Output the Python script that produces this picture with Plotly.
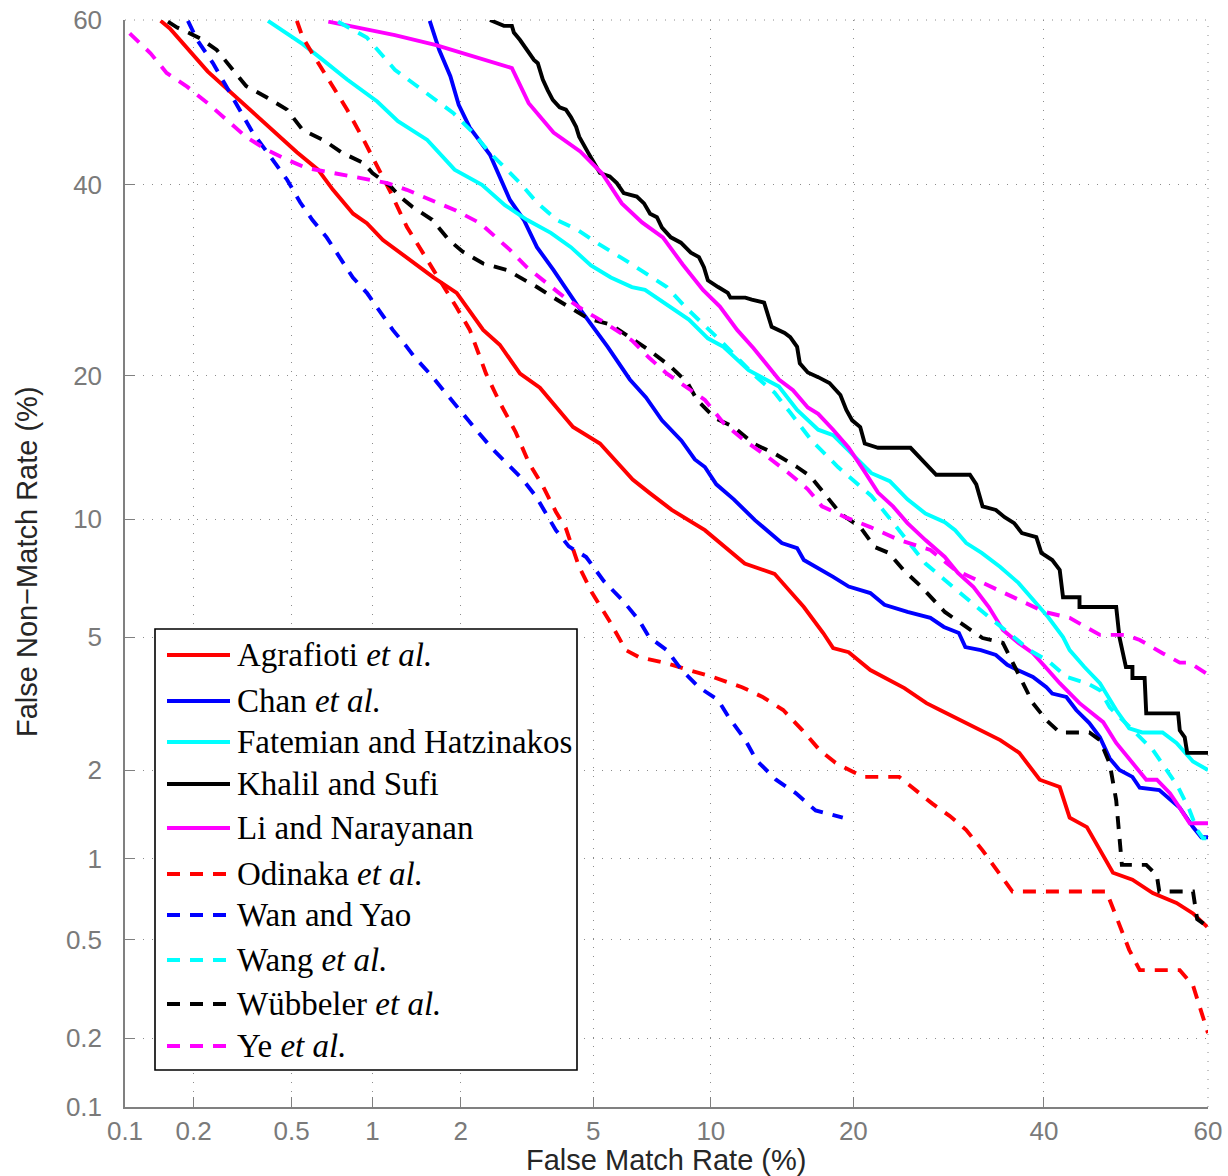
from statistics import NormalDist
import plotly.graph_objects as go

# ---------------- data (percent) ----------------
agrafioti_fmr = [0.144, 0.158, 0.229, 0.342, 0.524, 0.631, 0.718, 0.852, 0.955, 1.09, 1.35, 1.63, 1.94, 2.36, 2.66, 3.07, 3.52, 4.39, 5.22, 6.39, 7.05, 8.04, 9.68, 11.96, 13.9, 16.0, 17.5, 18.3, 19.6, 21.5, 24.7, 26.9, 28.3, 31.1, 34.9, 37.1, 39.5, 41.9, 43.1, 45.2, 46.8, 48.4, 50.8, 53.3, 56.2, 58.2, 59.9]
agrafioti_fnmr = [59.9, 59.0, 53.8, 49.1, 43.9, 41.8, 39.4, 36.6, 35.5, 33.6, 31.4, 29.5, 27.9, 24.2, 22.8, 20.2, 19.0, 15.9, 14.7, 12.3, 11.5, 10.5, 9.41, 7.8, 7.35, 6.03, 5.13, 4.66, 4.54, 4.04, 3.58, 3.23, 3.08, 2.81, 2.49, 2.27, 1.86, 1.76, 1.39, 1.29, 1.07, 0.89, 0.84, 0.75, 0.69, 0.63, 0.56]

chan_fmr = [1.58, 1.70, 1.85, 1.97, 2.14, 2.48, 2.86, 3.15, 3.45, 3.86, 4.54, 5.48, 6.28, 6.92, 7.6, 8.5, 9.16, 9.68, 10.3, 11.3, 12.6, 14.4, 15.5, 16.0, 18.3, 19.6, 21.5, 22.8, 25.0, 27.3, 28.7, 30.3, 31.0, 32.7, 34.4, 35.7, 36.9, 38.7, 40.3, 41.0, 42.7, 43.9, 45.5, 46.8, 48.0, 49.2, 50.8, 51.7, 54.1, 56.6, 58.2, 59.2, 60.0]
chan_fnmr = [59.9, 56.4, 53.2, 49.7, 46.9, 43.6, 38.2, 35.9, 32.8, 30.3, 26.5, 22.6, 19.7, 18.2, 16.4, 14.9, 13.6, 13.1, 12.0, 11.1, 9.94, 8.76, 8.52, 7.96, 7.22, 6.82, 6.56, 6.11, 5.85, 5.64, 5.33, 5.13, 4.69, 4.60, 4.46, 4.18, 4.04, 3.86, 3.60, 3.45, 3.37, 3.08, 2.81, 2.54, 2.18, 2.00, 1.90, 1.75, 1.72, 1.50, 1.29, 1.19, 1.19]

fatemian_fmr = [0.404, 0.552, 0.64, 0.81, 1.04, 1.23, 1.55, 1.91, 2.34, 2.76, 3.22, 3.79, 4.33, 4.93, 5.59, 6.36, 6.88, 7.73, 8.86, 9.84, 10.7, 12.2, 14.2, 15.5, 17.1, 18.3, 19.9, 21.6, 23.3, 25.0, 26.8, 28.8, 29.9, 31.1, 32.8, 34.9, 37.0, 38.7, 40.5, 42.3, 43.1, 44.9, 46.8, 48.8, 50.4, 52.0, 54.5, 56.2, 57.4, 58.2, 60.0]
fatemian_fnmr = [59.9, 57.1, 55.5, 52.8, 50.1, 47.7, 45.4, 41.8, 40.0, 37.6, 35.9, 34.4, 32.8, 30.8, 29.5, 28.5, 28.2, 26.8, 25.2, 23.4, 22.6, 20.5, 19.1, 17.2, 15.7, 15.3, 14.0, 12.7, 12.2, 11.1, 10.3, 9.83, 9.41, 8.76, 8.29, 7.65, 6.97, 6.29, 5.67, 5.0, 4.60, 4.12, 3.70, 3.08, 2.71, 2.63, 2.63, 2.44, 2.25, 2.13, 2.0]

khalil_fmr = [2.48, 2.74, 2.90, 2.94, 3.07, 3.22, 3.38, 3.47, 3.59, 3.71, 3.84, 4.02, 4.19, 4.33, 4.48, 4.57, 4.69, 4.85, 5.03, 5.22, 5.55, 5.80, 6.05, 6.55, 6.84, 7.09, 7.38, 7.6, 8.0, 8.47, 8.96, 9.37, 9.63, 9.84, 10.4, 10.95, 11.1, 12.0, 12.4, 13.2, 13.7, 14.1, 14.6, 15.0, 15.5, 15.7, 16.3, 17.1, 18.0, 18.9, 19.4, 19.9, 20.6, 21.0, 22.2, 25.3, 26.1, 27.2, 27.9, 31.5, 32.2, 32.9, 34.4, 35.4, 36.5, 37.4, 39.1, 39.7, 41.0, 41.9, 42.3, 44.3, 44.3, 48.8, 49.2, 50.0, 50.8, 50.8, 52.3, 52.5, 56.4, 56.6, 57.2, 57.5, 60.0]
khalil_fnmr = [60.0, 59.3, 59.3, 58.5, 57.6, 56.4, 55.2, 54.8, 52.8, 51.5, 50.3, 49.4, 49.1, 48.2, 47.0, 45.8, 45.0, 43.8, 42.6, 41.4, 41.0, 40.2, 39.0, 38.6, 37.8, 36.6, 36.2, 35.0, 33.9, 33.3, 32.2, 31.7, 30.6, 29.2, 28.5, 27.9, 27.4, 27.4, 27.2, 26.9, 24.5, 24.2, 23.9, 23.5, 22.6, 21.1, 20.3, 19.9, 19.4, 18.4, 17.2, 16.4, 15.9, 14.7, 14.4, 14.4, 13.8, 13.1, 12.6, 12.6, 12.0, 10.7, 10.5, 10.1, 9.78, 9.26, 9.06, 8.29, 7.96, 7.52, 6.40, 6.40, 6.03, 6.03, 5.0, 4.12, 4.12, 3.83, 3.83, 3.01, 3.01, 2.67, 2.54, 2.27, 2.27]

li_fmr = [0.69, 1.20, 1.66, 2.03, 2.90, 3.26, 3.86, 4.60, 5.28, 5.98, 6.76, 7.64, 8.56, 9.58, 10.5, 11.5, 12.5, 14.2, 15.2, 16.3, 17.1, 18.3, 19.6, 20.9, 22.2, 23.6, 25.0, 26.8, 28.8, 30.2, 31.9, 33.6, 35.2, 37.0, 38.7, 40.5, 41.9, 44.3, 46.4, 47.2, 48.8, 50.8, 52.5, 53.8, 55.4, 56.6, 57.8, 60.0]
li_fnmr = [59.8, 58.2, 57.0, 56.0, 54.2, 49.9, 46.3, 44.0, 41.4, 37.8, 35.6, 33.9, 30.9, 28.2, 26.5, 24.2, 22.5, 19.7, 18.8, 17.4, 16.9, 15.7, 14.4, 12.9, 11.5, 10.7, 9.78, 8.91, 8.10, 7.39, 6.80, 6.03, 5.23, 4.82, 4.51, 4.04, 3.70, 3.23, 2.93, 2.83, 2.44, 2.10, 1.86, 1.86, 1.68, 1.50, 1.33, 1.33]

odinaka_fmr = [0.524, 0.552, 0.60, 0.70, 0.81, 0.93, 1.04, 1.16, 1.32, 1.50, 1.71, 1.94, 2.14, 2.41, 2.66, 2.98, 3.26, 3.59, 3.92, 4.19, 4.57, 4.97, 5.52, 6.13, 6.63, 7.77, 8.86, 10.1, 11.8, 13.1, 14.5, 15.9, 17.2, 18.5, 20.0, 20.9, 24.2, 25.8, 27.5, 29.3, 31.1, 32.9, 34.5, 36.3, 47.6, 48.8, 50.4, 51.7, 56.6, 58.2, 60.0]
odinaka_fnmr = [59.9, 57.9, 56.0, 52.4, 49.1, 45.4, 42.2, 39.1, 35.1, 32.2, 29.2, 26.4, 24.2, 20.2, 17.8, 15.5, 13.4, 11.9, 10.4, 9.5, 7.65, 6.56, 5.57, 4.60, 4.40, 4.23, 4.04, 3.86, 3.60, 3.37, 3.08, 2.67, 2.32, 2.11, 1.97, 1.90, 1.90, 1.72, 1.55, 1.41, 1.26, 1.07, 0.91, 0.76, 0.76, 0.61, 0.457, 0.38, 0.38, 0.33, 0.21]

wan_fmr = [0.189, 0.207, 0.241, 0.275, 0.311, 0.351, 0.41, 0.48, 0.54, 0.60, 0.68, 0.76, 0.85, 0.955, 1.06, 1.18, 1.32, 1.40, 1.58, 1.75, 1.98, 2.24, 2.53, 2.78, 3.13, 3.42, 3.74, 3.92, 4.27, 4.78, 5.35, 6.0, 6.63, 7.05, 7.82, 8.51, 9.37, 10.4, 11.0, 12.0, 12.7, 14.0, 15.4, 16.9, 19.1]
wan_fnmr = [59.9, 57.6, 54.8, 51.9, 49.1, 46.3, 43.5, 40.6, 37.9, 35.9, 33.9, 31.7, 29.5, 27.9, 26.1, 24.2, 22.6, 21.7, 20.2, 18.8, 17.2, 15.7, 14.3, 13.4, 12.3, 11.3, 10.1, 9.41, 8.6, 8.1, 7.04, 6.29, 5.57, 5.0, 4.60, 4.04, 3.60, 3.30, 2.93, 2.49, 2.15, 1.86, 1.68, 1.47, 1.39]

wang_fmr = [0.75, 0.955, 1.20, 1.38, 1.66, 1.89, 2.19, 2.48, 2.80, 3.07, 3.45, 3.94, 4.54, 5.16, 6.09, 6.88, 7.82, 8.71, 9.73, 10.7, 12.7, 13.9, 15.0, 16.6, 18.7, 19.9, 21.6, 23.2, 25.0, 26.8, 28.8, 31.3, 33.6, 35.9, 38.3, 40.5, 42.7, 45.2, 46.8, 48.0, 50.0, 51.7, 53.3, 55.0, 56.4, 57.8, 58.7, 59.4, 60.0]
wang_fnmr = [59.8, 57.9, 54.0, 52.4, 50.3, 48.7, 46.3, 43.8, 41.8, 40.2, 37.9, 35.9, 34.7, 33.2, 31.4, 30.0, 28.5, 26.4, 24.5, 22.9, 19.9, 18.6, 17.0, 14.9, 13.1, 12.3, 11.3, 10.1, 8.91, 7.8, 7.09, 6.29, 5.67, 5.13, 4.60, 4.29, 3.86, 3.70, 3.53, 3.14, 2.81, 2.54, 2.32, 2.0, 1.76, 1.47, 1.26, 1.18, 1.18]

wubbeler_fmr = [0.155, 0.17, 0.193, 0.213, 0.25, 0.29, 0.33, 0.40, 0.48, 0.552, 0.66, 0.78, 0.93, 1.0, 1.16, 1.25, 1.38, 1.61, 1.83, 2.03, 2.36, 2.80, 3.07, 3.45, 3.86, 4.33, 4.85, 5.59, 6.36, 7.05, 8.0, 8.8, 9.27, 10.2, 11.3, 12.5, 13.9, 15.5, 16.5, 17.7, 18.9, 20.6, 21.9, 23.2, 24.6, 26.3, 28.8, 31.1, 32.9, 35.2, 36.6, 37.9, 38.7, 40.3, 41.9, 45.5, 46.8, 48.0, 48.8, 49.2, 49.5, 52.5, 53.8, 54.1, 58.2, 58.7, 60.0]
wubbeler_fnmr = [59.8, 59.1, 58.4, 57.8, 56.4, 54.0, 52.0, 50.6, 49.1, 46.6, 45.4, 43.8, 42.6, 41.4, 39.8, 38.6, 37.4, 35.9, 33.6, 32.3, 31.0, 30.3, 29.5, 28.5, 27.4, 26.3, 25.3, 24.7, 23.4, 22.3, 20.8, 19.4, 18.0, 16.6, 15.9, 14.7, 14.0, 13.1, 12.5, 11.3, 10.3, 9.57, 8.57, 8.29, 7.52, 6.84, 5.85, 5.33, 4.97, 4.82, 4.12, 3.53, 3.23, 2.87, 2.63, 2.63, 2.49, 2.10, 1.59, 1.19, 0.95, 0.95, 0.87, 0.76, 0.76, 0.60, 0.56]

ye_fmr = [0.105, 0.13, 0.153, 0.188, 0.229, 0.275, 0.332, 0.40, 0.48, 0.57, 0.72, 0.90, 1.13, 1.32, 1.58, 1.92, 2.31, 2.62, 2.86, 3.22, 3.62, 4.13, 4.72, 5.38, 6.36, 7.05, 7.82, 8.71, 9.68, 10.7, 11.96, 13.4, 14.9, 16.3, 17.4, 19.3, 21.5, 24.2, 27.3, 29.9, 32.7, 35.4, 37.8, 40.1, 43.1, 45.2, 46.8, 50.0, 51.7, 54.5, 56.6, 57.8, 60.0]
ye_fnmr = [58.4, 56.0, 53.6, 51.9, 49.9, 47.8, 45.7, 44.2, 43.0, 42.0, 41.4, 40.8, 40.2, 39.4, 38.2, 37.0, 35.5, 33.8, 32.5, 30.6, 29.2, 27.5, 26.1, 24.9, 23.2, 21.6, 20.2, 19.1, 18.0, 16.2, 14.9, 13.8, 12.7, 11.7, 10.7, 10.1, 9.57, 8.91, 8.43, 7.52, 7.0, 6.57, 6.2, 5.85, 5.64, 5.33, 5.07, 5.07, 4.91, 4.51, 4.24, 4.24, 3.92]

series_names = ["Agrafioti <i>et al.</i>", "Chan <i>et al.</i>", "Fatemian and Hatzinakos",
                "Khalil and Sufi", "Li and Narayanan", "Odinaka <i>et al.</i>", "Wan and Yao",
                "Wang <i>et al.</i>", "Wübbeler <i>et al.</i>", "Ye <i>et al.</i>"]
series_fmr = [agrafioti_fmr, chan_fmr, fatemian_fmr, khalil_fmr, li_fmr,
              odinaka_fmr, wan_fmr, wang_fmr, wubbeler_fmr, ye_fmr]
series_fnmr = [agrafioti_fnmr, chan_fnmr, fatemian_fnmr, khalil_fnmr, li_fnmr,
               odinaka_fnmr, wan_fnmr, wang_fnmr, wubbeler_fnmr, ye_fnmr]

tick_values = [0.1, 0.2, 0.5, 1, 2, 5, 10, 20, 40, 60]
tick_labels = ["0.1", "0.2", "0.5", "1", "2", "5", "10", "20", "40", "60"]

# ---------------- styles ----------------
colors = ["#ff0000", "#0000ff", "#00ffff", "#000000", "#ff00ff",
          "#ff0000", "#0000ff", "#00ffff", "#000000", "#ff00ff"]
DASH = "13px,10px"
dashes = ["solid"] * 5 + [DASH] * 5
LW = 3.9

nd = NormalDist()


def probit(pct):
    return nd.inv_cdf(pct / 100.0)


W, H = 1228, 1176
L, R, T, B = 125, 20, 20, 69
PW, PH = W - L - R, H - T - B


def px_x(px):
    return (px - L) / PW


def px_y(py):
    return (H - B - py) / PH


fig = go.Figure()
for name, xs, ys, c, d in zip(series_names, series_fmr, series_fnmr, colors, dashes):
    fig.add_trace(go.Scatter(
        x=[probit(v) for v in xs], y=[probit(v) for v in ys],
        mode="lines", name=name, showlegend=False,
        line=dict(color=c, width=LW, dash=d),
        customdata=list(zip(xs, ys)),
        hovertemplate="FMR %{customdata[0]}%<br>FNMR %{customdata[1]}%<extra>" + name + "</extra>",
    ))

tv = [probit(v) for v in tick_values]
rng = [probit(0.1), probit(60)]
axis_common = dict(
    tickmode="array", tickvals=tv, ticktext=tick_labels, range=rng,
    showgrid=True, gridcolor="#8c8c8c", gridwidth=1, griddash="1px,8px",
    showline=True, linecolor="#808080", linewidth=1.5,
    ticks="inside", ticklen=10, tickwidth=1.3, tickcolor="#808080",
    tickfont=dict(family="Liberation Sans, Arial, sans-serif", size=26, color="#7a7a7a"),
    zeroline=False, mirror=False, fixedrange=True, automargin=False,
)
fig.update_xaxes(**axis_common, ticklabelstandoff=0)
fig.update_yaxes(**axis_common, ticklabelstandoff=16)

shapes = []
annotations = []

# dotted grid lines along the open top/right edges
shapes.append(dict(type="line", xref="paper", yref="paper", x0=0, x1=1, y0=1, y1=1,
                   line=dict(color="#8c8c8c", width=1, dash="1px,8px"), layer="below"))
shapes.append(dict(type="line", xref="paper", yref="paper", x0=1, x1=1, y0=0, y1=1,
                   line=dict(color="#8c8c8c", width=1, dash="1px,8px"), layer="below"))

# legend box
shapes.append(dict(type="rect", xref="paper", yref="paper",
                   x0=px_x(155), x1=px_x(577), y0=px_y(1070), y1=px_y(629),
                   fillcolor="white", line=dict(color="black", width=1.6), layer="above"))
legend_rows = [655, 701, 742, 784, 828, 874, 915, 960, 1004, 1046]
for name, c, d, yy in zip(series_names, colors, dashes, legend_rows):
    shapes.append(dict(type="line", xref="paper", yref="paper",
                       x0=px_x(167), x1=px_x(230), y0=px_y(yy), y1=px_y(yy),
                       line=dict(color=c, width=LW, dash=d), layer="above"))
    annotations.append(dict(xref="paper", yref="paper", x=px_x(235), y=px_y(yy),
                            xanchor="left", yanchor="middle", showarrow=False,
                            text=name, font=dict(family="Liberation Serif, Times New Roman, serif",
                                                 size=33, color="black")))

# axis titles
annotations.append(dict(xref="paper", yref="paper", x=px_x(666), y=px_y(1160),
                        xanchor="center", yanchor="middle", showarrow=False,
                        text="False Match Rate (%)",
                        font=dict(family="Liberation Sans, Arial, sans-serif", size=29, color="#262626")))
annotations.append(dict(xref="paper", yref="paper", x=px_x(27), y=px_y(562),
                        xanchor="center", yanchor="middle", showarrow=False, textangle=-90,
                        text="False Non\u2212Match Rate (%)",
                        font=dict(family="Liberation Sans, Arial, sans-serif", size=29, color="#262626")))

fig.update_layout(
    width=W, height=H, autosize=False,
    margin=dict(l=L, r=R, t=T, b=B, pad=0),
    paper_bgcolor="white", plot_bgcolor="white",
    shapes=shapes, annotations=annotations,
    showlegend=False,
)

fig.write_html("out.html")
